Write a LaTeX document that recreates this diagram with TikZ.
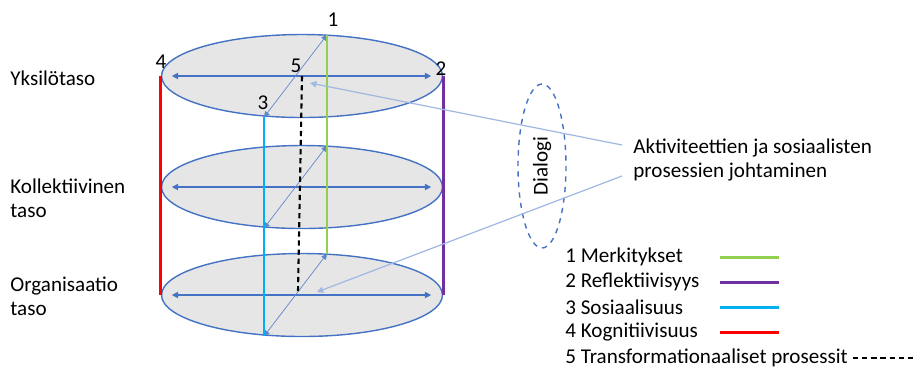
\documentclass[tikz,border=0pt]{standalone}
\usepackage{fontspec}
\setmainfont{Carlito}
\usetikzlibrary{shapes.geometric, arrows.meta, calc}
\definecolor{cRim}{RGB}{68,114,196}
\definecolor{cDisk}{RGB}{231,230,230}
\definecolor{cPale}{RGB}{160,184,226}
\definecolor{cGreen}{RGB}{146,208,80}
\definecolor{cPurple}{RGB}{112,48,160}
\definecolor{cCyan}{RGB}{0,176,240}
\definecolor{cRed}{RGB}{255,0,0}
\tikzset{
    level/.style  ={ellipse, draw=cRim, fill=cDisk, line width=0.8pt, minimum width=5.62cm, minimum height=1.66cm, inner sep=0pt},
    axis/.style   ={{Triangle[length=3.6pt,width=3.6pt]}-{Triangle[length=3.6pt,width=3.6pt]}, draw=cRim, line width=0.6pt},
    slant/.style  ={{Triangle[length=3.2pt,width=3.2pt]}-{Triangle[length=3.2pt,width=3.2pt]}, draw=cRim!85, line width=0.4pt},
    pointer/.style={-{Triangle[length=3.6pt,width=3.6pt]}, draw=cPale, line width=0.7pt},
    strand/.style ={line width=1.7pt},
    transf/.style ={line width=1.2pt, dash pattern=on 3pt off 2.2pt, black},
    caption/.style={anchor=west, align=left, inner sep=0pt},
}

\begin{document}
\begin{tikzpicture}[x=0.02cm, y=-0.02cm, every node/.style={font=\fontsize{12}{13.6}\selectfont}]
    \useasboundingbox (0,0) rectangle (916,370);
    % three levels of the cylinder
    \node[level] (top) at (302,76) {};
    \node[level] (mid) at (302,187) {};
    \node[level] (bot) at (302,295) {};
    \foreach \lv in {top,mid,bot}{
        \draw[axis] ($(\lv.west)+(11,0)$) -- ($(\lv.east)+(-12,0)$);
        \draw[slant] ($(\lv.south)+(-38,-1)$) -- ($(\lv.north)+(25,1)$);
    }
    % vertical strands
    \draw[strand, cRed] (top.west) -- (bot.west);
    \draw[strand, cPurple] (top.east) -- (bot.east);
    \draw[strand, cCyan] ($(top.south)+(-38,-1)$) -- ($(bot.south)+(-38,-1)$);
    \draw[strand, cGreen] ($(top.north)+(25,1)$) -- ($(bot.north)+(25,1)$);
    \draw[transf] (top.center) -- ($(bot.center)+(-4,-4)$);
    % point numbers
    \node (n1) at (333,20) {1};
    \node (n2) at (441,69) {2};
    \node (n3) at (263,103) {3};
    \node (n4) at (161,62) {4};
    \node (n5) at (296,66) {5};
    % level names
    \node[caption] (yks) at (10,78) {Yksilötaso};
    \node[caption] (kol) at (10,198) {Kollektiivinen\\taso};
    \node[caption] (org) at (10,296) {Organisaatio\\taso};
    % leadership and dialogue
    \node[ellipse, draw=cRim, dashed, line width=0.8pt, rotate=90, minimum width=3.28cm, minimum height=0.96cm, inner sep=0pt] (dialog) at (542,166) {Dialogi};
    \node[caption] (lead) at (633,160) {Aktiviteettien ja sosiaalisten\\prosessien johtaminen};
    \draw[pointer] ($(lead.west)+(-11,-15)$) -- ($(top.center)+(8,7)$);
    \draw[pointer] ($(lead.west)+(-11,16)$) -- ($(bot.center)+(15,-3)$);
    % legend
    \foreach \i/\txt/\col in {1/Merkitykset/cGreen, 2/Reflektiivisyys/cPurple, 3/Sosiaalisuus/cCyan, 4/Kognitiivisuus/cRed}{
        \node[caption] (key\i) at (565,232+25*\i) {\i\ \txt};
        \draw[strand, \col] (720,232+25*\i) -- ++(59,0);
    }
    \node[caption] (key5) at (565,358) {5 Transformationaaliset prosessit};
    \draw[transf] (853,358) -- ++(63,0);
\end{tikzpicture}
\end{document}
